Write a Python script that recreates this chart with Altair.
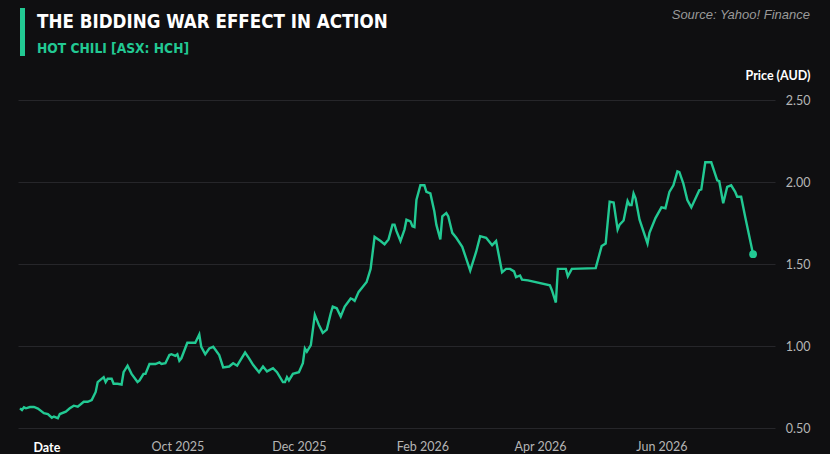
import altair as alt
import pandas as pd

dates = [
    "2025-07-14","2025-07-15","2025-07-16","2025-07-17","2025-07-19","2025-07-21","2025-07-23","2025-07-25",
    "2025-07-26","2025-07-28","2025-07-30","2025-07-31","2025-08-02","2025-08-03","2025-08-06","2025-08-08",
    "2025-08-10","2025-08-12","2025-08-15","2025-08-17","2025-08-19","2025-08-21","2025-08-22","2025-08-25",
    "2025-08-26","2025-08-27","2025-08-29","2025-08-30","2025-09-01","2025-09-03","2025-09-04","2025-09-06",
    "2025-09-08","2025-09-11","2025-09-12","2025-09-14","2025-09-15","2025-09-17","2025-09-20","2025-09-22",
    "2025-09-23","2025-09-25","2025-09-27","2025-09-28","2025-09-30","2025-10-01","2025-10-02","2025-10-03",
    "2025-10-06","2025-10-08","2025-10-10","2025-10-12","2025-10-13","2025-10-15","2025-10-17","2025-10-19",
    "2025-10-22","2025-10-24","2025-10-27","2025-10-29","2025-10-31","2025-11-04","2025-11-06","2025-11-08",
    "2025-11-11","2025-11-13","2025-11-15","2025-11-18","2025-11-20","2025-11-23","2025-11-24","2025-11-25",
    "2025-11-26","2025-11-28","2025-12-01","2025-12-03","2025-12-04","2025-12-05","2025-12-07","2025-12-09",
    "2025-12-11","2025-12-13","2025-12-15","2025-12-17","2025-12-18","2025-12-20","2025-12-22","2025-12-24",
    "2025-12-27","2025-12-28","2025-12-29","2025-12-31","2026-01-02","2026-01-04","2026-01-06","2026-01-08",
    "2026-01-11","2026-01-13","2026-01-15","2026-01-17","2026-01-18","2026-01-19","2026-01-21","2026-01-23",
    "2026-01-24","2026-01-26","2026-01-27","2026-01-28","2026-01-29","2026-01-31","2026-02-02","2026-02-03",
    "2026-02-05","2026-02-07","2026-02-08","2026-02-10","2026-02-11","2026-02-13","2026-02-14","2026-02-16",
    "2026-02-18","2026-02-21","2026-02-25","2026-02-28","2026-03-02","2026-03-05","2026-03-06","2026-03-08",
    "2026-03-10","2026-03-13","2026-03-15","2026-03-17","2026-03-19","2026-03-20","2026-03-22","2026-03-23",
    "2026-03-26","2026-04-06","2026-04-07","2026-04-09","2026-04-10","2026-04-14","2026-04-15","2026-04-17",
    "2026-04-29","2026-05-02","2026-05-04","2026-05-06","2026-05-08","2026-05-10","2026-05-11","2026-05-13",
    "2026-05-15","2026-05-16","2026-05-17","2026-05-18","2026-05-19","2026-05-21","2026-05-25","2026-05-26",
    "2026-05-29","2026-06-01","2026-06-03","2026-06-05","2026-06-07","2026-06-09","2026-06-10","2026-06-12",
    "2026-06-14","2026-06-16","2026-06-20","2026-06-21","2026-06-23","2026-06-26","2026-06-29","2026-06-30",
    "2026-07-02","2026-07-04","2026-07-06","2026-07-08","2026-07-09","2026-07-11","2026-07-13","2026-07-17",
]
prices = [
    0.62,0.61,0.626,0.62,0.628,0.628,0.618,0.60,
    0.59,0.585,0.563,0.57,0.56,0.585,0.60,0.62,
    0.636,0.63,0.66,0.66,0.67,0.72,0.78,0.81,
    0.78,0.80,0.80,0.77,0.77,0.765,0.84,0.88,
    0.83,0.78,0.79,0.83,0.83,0.89,0.89,0.90,
    0.89,0.895,0.945,0.95,0.94,0.95,0.91,0.925,
    1.02,1.02,1.02,1.07,0.995,0.95,0.985,0.995,
    0.945,0.87,0.875,0.895,0.88,0.96,0.925,0.885,
    0.84,0.875,0.845,0.865,0.84,0.78,0.78,0.81,
    0.79,0.83,0.84,0.895,0.985,0.965,1.005,1.19,
    1.13,1.08,1.10,1.20,1.24,1.23,1.18,1.24,
    1.29,1.285,1.275,1.33,1.36,1.39,1.47,1.665,
    1.64,1.62,1.65,1.74,1.74,1.70,1.64,1.71,
    1.77,1.76,1.73,1.725,1.89,1.98,1.98,1.94,
    1.93,1.82,1.74,1.65,1.79,1.81,1.79,1.69,
    1.66,1.605,1.46,1.575,1.67,1.66,1.645,1.615,
    1.64,1.45,1.47,1.47,1.455,1.42,1.43,1.405,
    1.40,1.37,1.34,1.265,1.47,1.47,1.425,1.47,
    1.475,1.61,1.625,1.88,1.875,1.71,1.74,1.765,
    1.885,1.86,1.86,1.93,1.90,1.77,1.625,1.69,
    1.78,1.845,1.84,1.94,1.98,2.065,2.06,1.99,
    1.89,1.845,1.95,1.955,2.12,2.12,2.01,2.005,
    1.87,1.97,1.98,1.94,1.91,1.91,1.79,1.56,
]

title_text = ["THE BIDDING WAR EFFECT IN ACTION"]
subtitle_text = ["HOT CHILI [ASX: HCH]"]
source_text = ["Source: Yahoo! Finance"]
y_ticks = [0.5, 1.0, 1.5, 2.0, 2.5]

GREEN = "#22c993"
BG = "#0f0f11"
COND = "'DejaVu Sans Condensed', 'DejaVu Sans', sans-serif"

df = pd.DataFrame({"Date": dates, "Price": prices})
last = df.tail(1)

x_scale = alt.Scale(domain=[alt.DateTime(year=2025, month=7, date=13),
                            alt.DateTime(year=2026, month=7, date=28)])
y_scale = alt.Scale(domain=[0.5, 2.5], nice=False, zero=False)

x_enc = alt.X(
    "Date:T", scale=x_scale,
    axis=alt.Axis(
        title="Date", format="%b %Y",
        values=[alt.DateTime(year=2025, month=10, date=1),
                alt.DateTime(year=2025, month=12, date=1),
                alt.DateTime(year=2026, month=2, date=1),
                alt.DateTime(year=2026, month=4, date=1),
                alt.DateTime(year=2026, month=6, date=1)],
        domain=False, ticks=False, grid=False,
        labelColor="#b5b5b5", labelFont="Lato", labelFontSize=12.5, labelPadding=12,
        titleColor="#ffffff", titleFont="Lato", titleFontSize=12.5, titleFontWeight="bold",
        titleAnchor="start", titleAlign="left", titleX=15, titleY=23, titleBaseline="alphabetic",
    ),
)
y_enc = alt.Y(
    "Price:Q", scale=y_scale,
    axis=alt.Axis(
        orient="right", title="Price (AUD)", values=y_ticks, format=".2f",
        domain=False, ticks=False, grid=True, gridColor="#26262a", gridWidth=1,
        labelColor="#b5b5b5", labelFont="Lato", labelFontSize=12.5, labelAlign="right", labelPadding=35,
        titleColor="#ffffff", titleFont="Lato", titleFontSize=12.5, titleFontWeight="bold",
        titleAngle=0, titleAlign="right", titleX=35, titleY=-21, titleBaseline="alphabetic",
    ),
)

line = alt.Chart(df).mark_line(color=GREEN, strokeWidth=2.4, interpolate="linear").encode(x=x_enc, y=y_enc)
dot = alt.Chart(last).mark_circle(color=GREEN, size=60, opacity=1).encode(
    x=alt.X("Date:T", scale=x_scale), y=alt.Y("Price:Q", scale=y_scale))

source = alt.Chart(pd.DataFrame({"t": source_text})).mark_text(
    align="right", baseline="alphabetic", font="Liberation Sans", fontStyle="italic",
    fontSize=13, color="#9a9a9a"
).encode(text="t:N", x=alt.value(792), y=alt.value(-81))

title = alt.Chart(pd.DataFrame({"t": title_text})).mark_text(
    align="left", baseline="alphabetic", font=COND, fontWeight="bold",
    fontSize=18.6, color="#ffffff"
).encode(text="t:N", x=alt.value(19), y=alt.value(-72))

subtitle = alt.Chart(pd.DataFrame({"t": subtitle_text})).mark_text(
    align="left", baseline="alphabetic", font=COND, fontWeight="bold",
    fontSize=13.7, color=GREEN
).encode(text="t:N", x=alt.value(19), y=alt.value(-47))

bar = alt.Chart(pd.DataFrame({"t": ["bar"]})).mark_rule(color=GREEN, strokeWidth=5).encode(
    x=alt.value(4.5), y=alt.value(-92), y2=alt.value(-44)
)

chart = alt.layer(line, dot, source, title, subtitle, bar).properties(
    width=757, height=328,
    autosize=alt.AutoSizeParams(type="none"),
    padding={"left": 18, "top": 100, "right": 55, "bottom": 26},
).configure(background=BG).configure_view(stroke=None)

chart.save("out.html", embed_options={"renderer": "svg", "actions": False})
